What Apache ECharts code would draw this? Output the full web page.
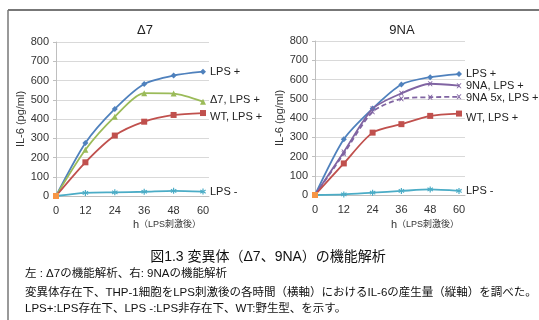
<!DOCTYPE html>
<html><head><meta charset="utf-8">
<script src="https://cdn.jsdelivr.net/npm/echarts@6/dist/echarts.min.js"></script>
<style>html,body{margin:0;padding:0;background:#fff}#c{width:539px;height:320px}</style>
</head><body><div id="c"></div>
<script>
const hours = [0, 12, 24, 36, 48, 60];
const xTicks = [0, 12, 24, 36, 48, 60];
// Left panel (Δ7)
const leftLpsPlus = [0, 275, 452, 582, 626, 646];
const leftD7 = [0, 240, 412, 534, 532, 490];
const leftWT = [0, 175, 314, 386, 421, 431];
const leftLpsMinus = [0, 16, 19, 22, 27, 23];
// Right panel (9NA)
const rightLpsPlus = [0, 290, 449, 574, 612, 628];
const right9NA = [0, 224, 448, 528, 578, 568];
const right9NA5x = [0, 214, 432, 500, 508, 510];
const rightWT = [0, 164, 324, 368, 411, 423];
const rightLpsMinus = [0, 3, 12, 21, 29, 21];

const FONT = '"Liberation Sans", Arial, "Noto Sans CJK JP", sans-serif';
const C = {blue:'#4F81BD', red:'#C0504D', green:'#9BBB59', purple:'#8064A2', cyan:'#4BACC6', orange:'#F79646'};
const xPath = 'path://M0,0L2,0L5,3L8,0L10,0L6,5L10,10L8,10L5,7L2,10L0,10L4,5Z';
const starPath = 'path://M4,0L6,0L6,3.5L9,1.5L10,3.2L7,5L10,6.8L9,8.5L6,6.5L6,10L4,10L4,6.5L1,8.5L0,6.8L3,5L0,3.2L1,1.5L4,3.5Z';

function pts(v){ return hours.map((h,i)=>[h, v[i]]); }

function mk(name, data, gi, color, symbol, size, labelDy, dashed){
  return {
    type:'line', name, xAxisIndex:gi, yAxisIndex:gi, data:pts(data),
    smooth:0.25, symbol, symbolSize:size,
    lineStyle:{color, width:1.8, type: dashed ? [5,3] : 'solid'},
    itemStyle:{color},
    endLabel:{show:true, formatter:name, distance:7, offset:[0,labelDy],
      color:'#222', fontSize:11, fontFamily:FONT},
    z:3
  };
}

const grids = [
  {left:56, top:42, width:153, height:154},
  {left:315, top:41, width:150, height:154}
];
const xMax = [60*153/147, 60*150/144];

const xAxes = grids.map((g,i)=>({
  type:'value', gridIndex:i, min:0, max:xMax[i], interval:12,
  axisLine:{show:true, lineStyle:{color:'#bfbfbf'}},
  axisTick:{show:false}, splitLine:{show:false},
  axisLabel:{color:'#333', fontSize:11, fontFamily:FONT, margin:9,
    formatter:(v)=> xTicks.includes(v) ? String(v) : '', showMaxLabel:false}
}));
const yAxes = grids.map((g,i)=>({
  type:'value', gridIndex:i, min:0, max:800, interval:100,
  name:'IL-6 (pg/ml)', nameLocation:'middle', nameGap:29,
  nameTextStyle:{color:'#333', fontSize:11, fontFamily:FONT},
  axisLine:{show:true, lineStyle:{color:'#bfbfbf'}},
  axisTick:{show:true, length:3, lineStyle:{color:'#bfbfbf'}},
  splitLine:{show:true, lineStyle:{color:'#d9d9d9'}},
  axisLabel:{color:'#333', fontSize:11, fontFamily:FONT, margin:7}
}));

const series = [
  mk('LPS +', leftLpsPlus, 0, C.blue, 'diamond', 6, 0),
  mk('Δ7, LPS +', leftD7, 0, C.green, 'triangle', 6, -2),
  mk('WT, LPS +', leftWT, 0, C.red, 'rect', 6, 4),
  mk('LPS -', leftLpsMinus, 0, C.cyan, starPath, 6, 0),
  mk('LPS +', rightLpsPlus, 1, C.blue, 'diamond', 6, 0),
  mk('9NA, LPS +', right9NA, 1, C.purple, xPath, 5, 0),
  mk('9NA 5x, LPS +', right9NA5x, 1, C.purple, xPath, 5, 1, true),
  mk('WT, LPS +', rightWT, 1, C.red, 'rect', 6, 4),
  mk('LPS -', rightLpsMinus, 1, C.cyan, starPath, 6, 0),
  {type:'line', xAxisIndex:0, yAxisIndex:0, data:[[0,0]], symbol:'rect', symbolSize:6, itemStyle:{color:C.orange}, z:4},
  {type:'line', xAxisIndex:1, yAxisIndex:1, data:[[0,0]], symbol:'rect', symbolSize:6, itemStyle:{color:C.orange}, z:4}
];

const chart = echarts.init(document.getElementById('c'), null, {renderer:'canvas'});
chart.setOption({
  animation:false,
  backgroundColor:'#fff',
  grid:grids, xAxis:xAxes, yAxis:yAxes, series,
  title:[
    {text:'Δ7', left:140, top:19, textAlign:'center', textStyle:{fontSize:13, fontWeight:'normal', color:'#222', fontFamily:FONT}},
    {text:'9NA', left:397, top:19, textAlign:'center', textStyle:{fontSize:13, fontWeight:'normal', color:'#222', fontFamily:FONT}}
  ],
  graphic:[
    {type:'line', shape:{x1:8, y1:10, x2:539, y2:10}, style:{stroke:'#777', lineWidth:2}},
    {type:'line', shape:{x1:8, y1:10, x2:8, y2:320}, style:{stroke:'#777', lineWidth:1.5}},
    {type:'text', x:167, y:225, style:{text:'{a|h}{b|（LPS刺激後）}', align:'center', verticalAlign:'middle',
      rich:{a:{fontSize:11, fontFamily:FONT, fill:'#333'}, b:{fontSize:9, fontFamily:FONT, fill:'#333'}}}},
    {type:'text', x:425, y:225, style:{text:'{a|h}{b|（LPS刺激後）}', align:'center', verticalAlign:'middle',
      rich:{a:{fontSize:11, fontFamily:FONT, fill:'#333'}, b:{fontSize:9, fontFamily:FONT, fill:'#333'}}}},
    {type:'text', x:268, y:257, style:{text:'図1.3 変異体（Δ7、9NA）の機能解析', align:'center', verticalAlign:'middle',
      fontSize:14, fontFamily:FONT, fill:'#111'}},
    {type:'text', x:25, y:274, style:{text:'左 : Δ7の機能解析、右: 9NAの機能解析', verticalAlign:'middle',
      fontSize:11.5, fontFamily:FONT, fill:'#111'}},
    {type:'text', x:25, y:293, style:{text:'変異体存在下、THP-1細胞をLPS刺激後の各時間（横軸）におけるIL-6の産生量（縦軸）を調べた。', verticalAlign:'middle',
      fontSize:11.5, fontFamily:FONT, fill:'#111'}},
    {type:'text', x:25, y:309, style:{text:'LPS+:LPS存在下、LPS -:LPS非存在下、WT:野生型、を示す。', verticalAlign:'middle',
      fontSize:11.5, fontFamily:FONT, fill:'#111'}}
  ]
});
</script></body></html>
